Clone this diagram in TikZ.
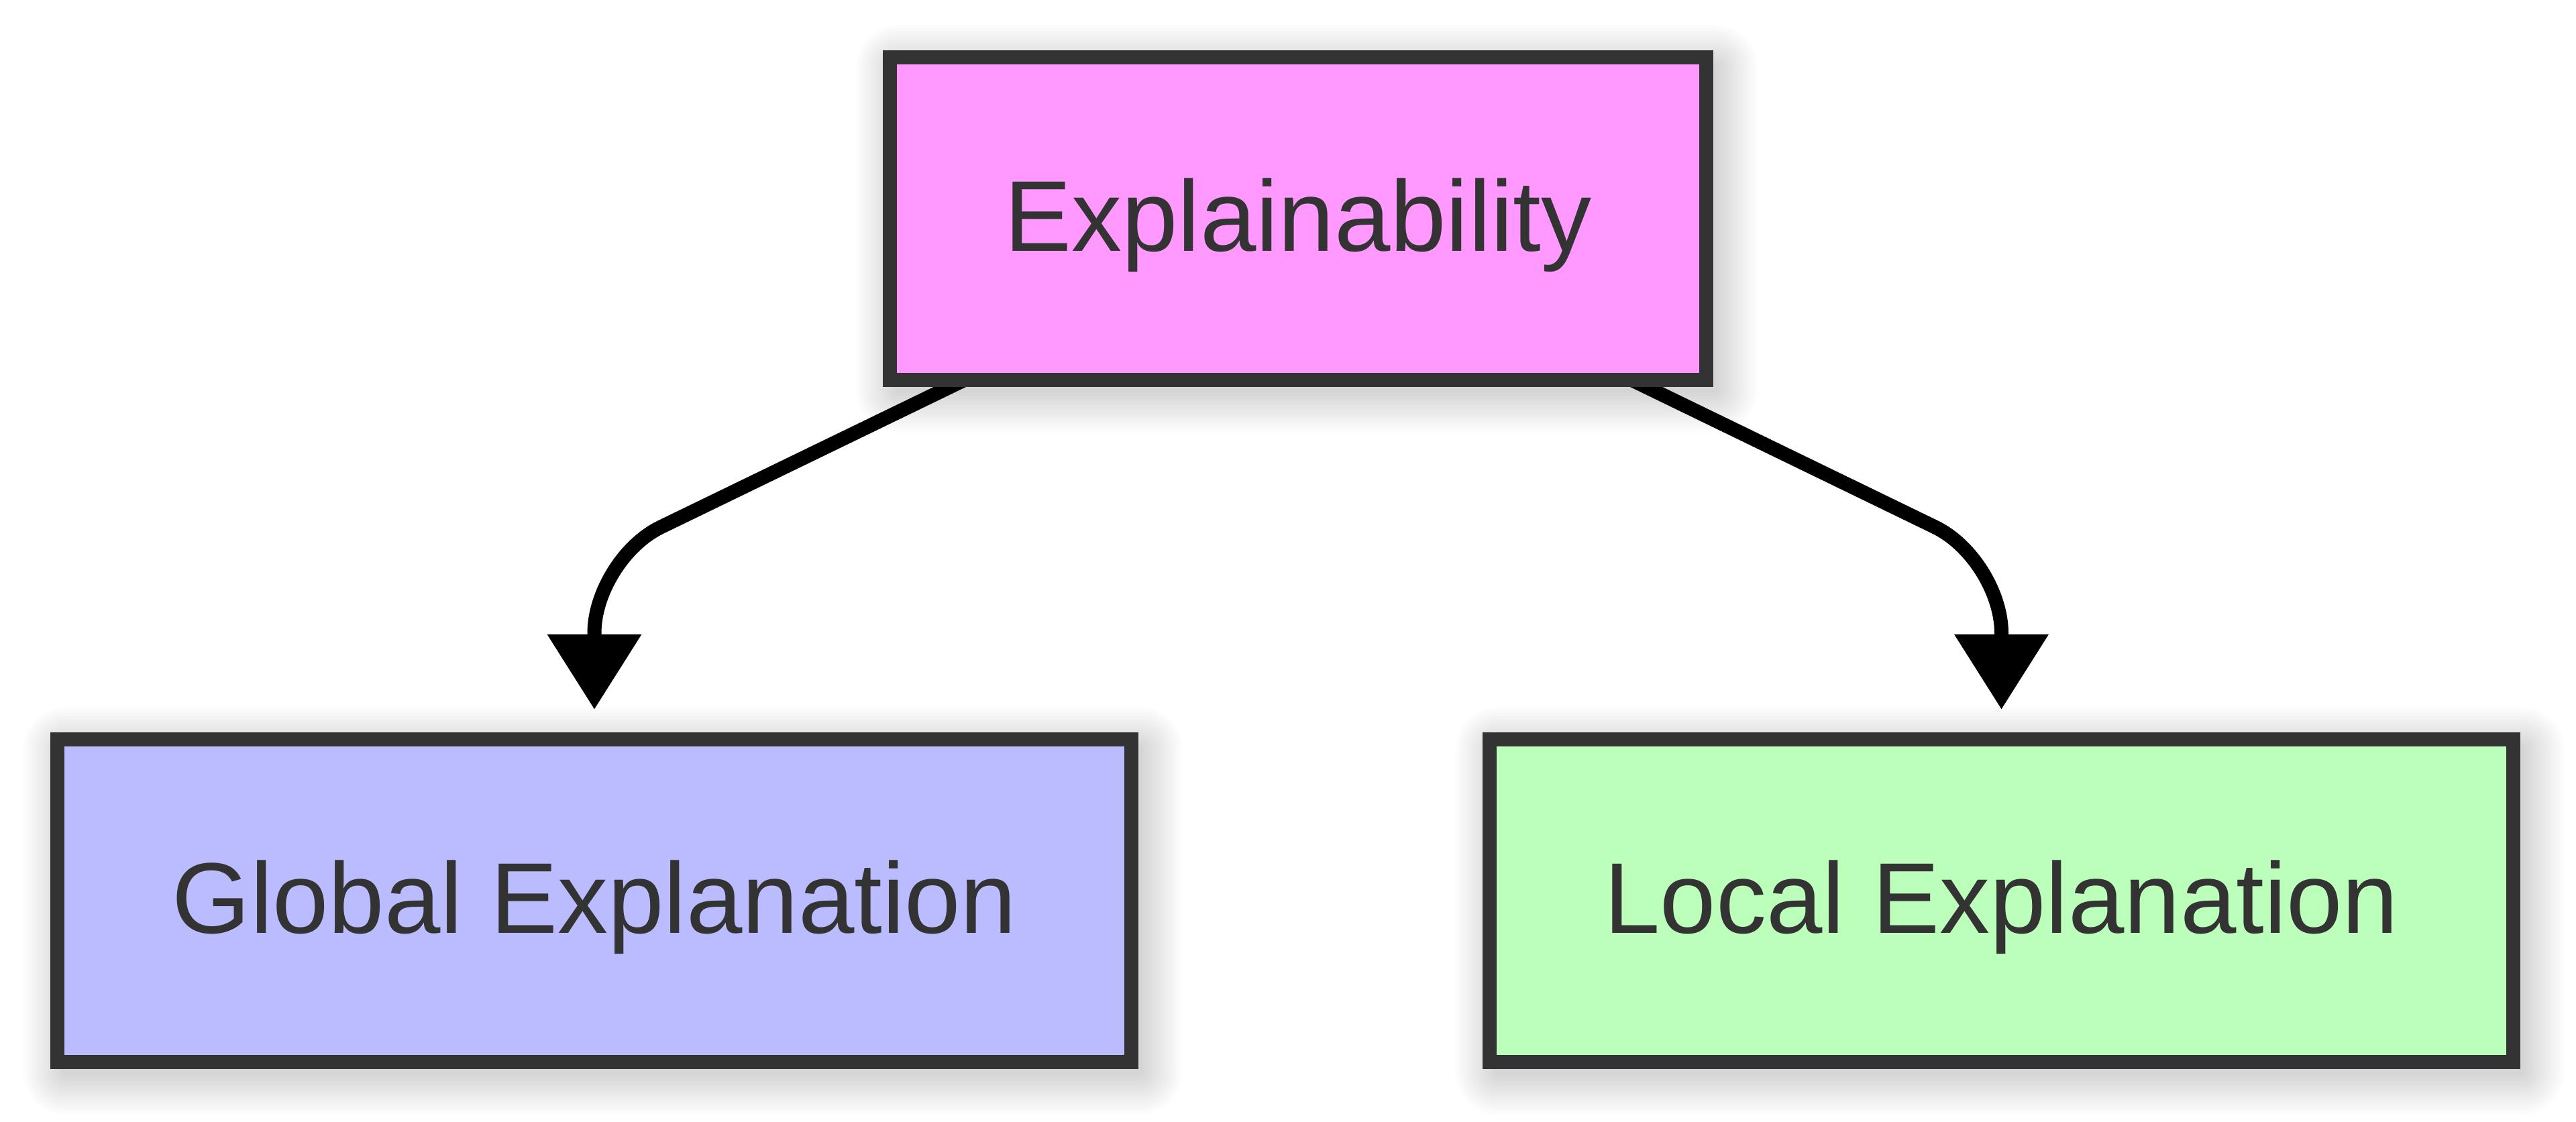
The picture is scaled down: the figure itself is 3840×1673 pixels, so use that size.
\documentclass[tikz,border=0pt]{standalone}
\usepackage{fontspec}
\setmainfont{Liberation Sans}
\usetikzlibrary{arrows.meta}
\definecolor{bordergray}{HTML}{333333}
\definecolor{pinkfill}{HTML}{FF99FF}
\definecolor{bluefill}{HTML}{BBBBFF}
\definecolor{greenfill}{HTML}{BBFFBB}
\pgfdeclarelayer{bglayer}
\pgfdeclarelayer{shadowlayer}
\pgfdeclarelayer{connlayer}
\pgfsetlayers{bglayer,shadowlayer,connlayer,main}
\tikzset{
  box/.style={draw=bordergray, line width=4.2pt, inner sep=0pt, outer sep=0pt,
    minimum height=96.2pt, text=bordergray, text height=24pt, text depth=4.4pt,
    font=\fontsize{30}{36}\selectfont},
  conn/.style={draw=black, line width=4.2pt, rounded corners=22pt,
    -{Triangle[width=27pt,length=22.4pt]}},
  shadowstep/.style={fill=black, fill opacity=0.013}
}
\newcommand{\softshadow}[1]{%
  \begin{pgfonlayer}{shadowlayer}
  \foreach \i in {1,...,14} {
    \fill[shadowstep, rounded corners=\i*0.9pt]
      ([shift={(-\i*0.9pt+2.5pt,\i*0.9pt-3pt)}]#1.north west) rectangle
      ([shift={(\i*0.9pt+2.5pt,-\i*0.9pt-3pt)}]#1.south east);
  }
  \end{pgfonlayer}}
\begin{document}
\begin{tikzpicture}[x=0.2pt,y=-0.2pt]
\begin{pgfonlayer}{bglayer}
\fill[white] (0,0) rectangle (3840,1673);
\end{pgfonlayer}
\useasboundingbox (0,0) rectangle (3840,1673);
\node[box, fill=pinkfill, minimum width=243.4pt] (top) at (1935,326) {Explainability};
\node[box, fill=bluefill, minimum width=320.2pt] (global) at (886,1343) {Global Explanation};
\node[box, fill=greenfill, minimum width=305.2pt] (local) at (2983.5,1343) {Local Explanation};
\softshadow{top}
\softshadow{global}
\softshadow{local}
\coordinate (s1) at ([xshift=-99.5pt]top.south);
\coordinate (s2) at ([xshift=99.5pt]top.south);
\coordinate (c1) at (886,834);
\coordinate (c2) at (2983.5,834);
\begin{pgfonlayer}{connlayer}
\draw[conn] (s1) -- (c1) -- ([yshift=8.9pt]global.north);
\draw[conn] (s2) -- (c2) -- ([yshift=8.9pt]local.north);
\end{pgfonlayer}
\end{tikzpicture}
\end{document}
